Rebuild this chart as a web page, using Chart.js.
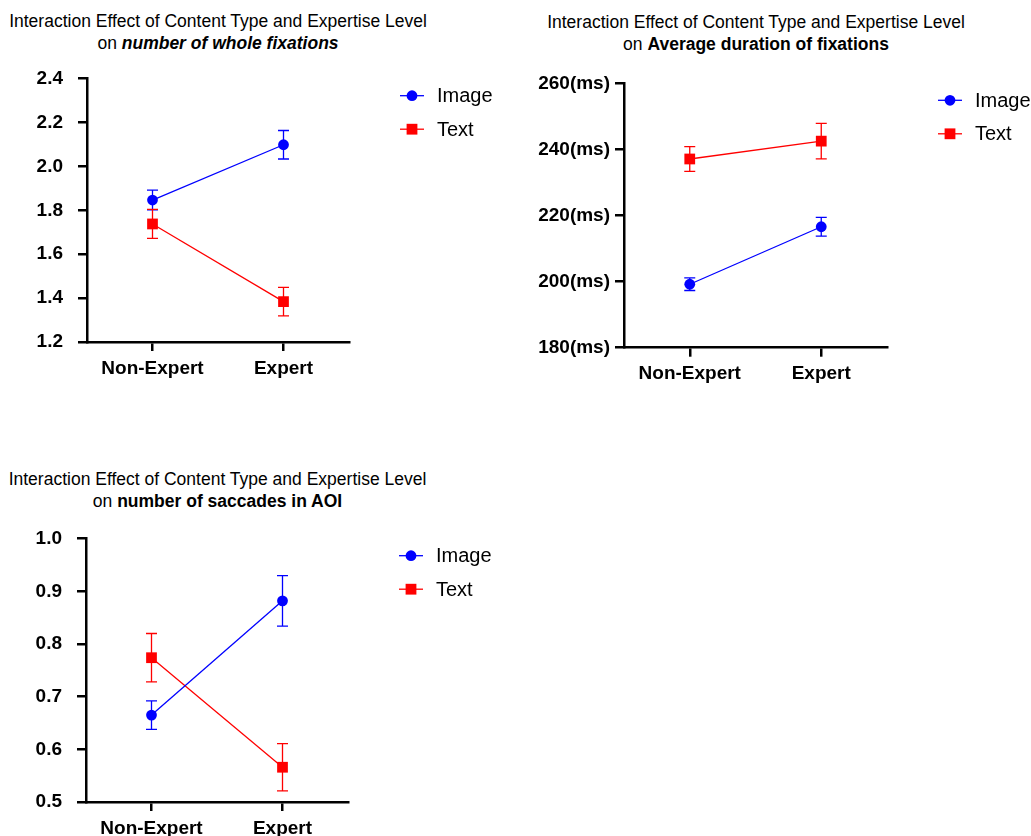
<!DOCTYPE html>
<html>
<head>
<meta charset="utf-8">
<script src="https://cdn.jsdelivr.net/npm/chart.js@4"></script>
<style>
  body { margin: 0; background: #fff; }
  #page { position: relative; width: 1031px; height: 836px; overflow: hidden; font-family: "Liberation Sans", Arial, sans-serif; }
  .title { position: absolute; width: 520px; text-align: center; font-size: 17.5px; line-height: 22px; color: #000; white-space: nowrap; }
  canvas { position: absolute; }
</style>
</head>
<body>
<div id="page">
  <div class="title" style="left:-42px;top:10px">Interaction Effect of Content Type and Expertise Level<br>on <b><i>number of whole fixations</i></b></div>
  <div class="title" style="left:496px;top:10.7px">Interaction Effect of Content Type and Expertise Level<br>on <b>Average duration of fixations</b></div>
  <div class="title" style="left:-42.5px;top:468.3px">Interaction Effect of Content Type and Expertise Level<br>on <b>number of saccades in AOI</b></div>
  <canvas id="c1" width="515" height="336" style="left:0;top:48px"></canvas>
  <canvas id="c2" width="511" height="330" style="left:520px;top:60px"></canvas>
  <canvas id="c3" width="515" height="328" style="left:0;top:508px"></canvas>
</div>
<script>
const categories = ["Non-Expert", "Expert"];
const seriesNames = ["Image", "Text"];

// number of whole fixations (mean, error)
const fixImage = [1.847, 2.099];
const fixImageErr = [0.045, 0.065];
const fixText = [1.738, 1.384];
const fixTextErr = [0.066, 0.065];
const fixTicks = [1.2, 1.4, 1.6, 1.8, 2.0, 2.2, 2.4];

// average duration of fixations (ms)
const durImage = [199.2, 216.6];
const durImageErr = [1.9, 2.85];
const durText = [237.1, 242.5];
const durTextErr = [3.75, 5.35];
const durTicks = [180, 200, 220, 240, 260];

// number of saccades in AOI
const sacImage = [0.665, 0.882];
const sacImageErr = [0.027, 0.048];
const sacText = [0.774, 0.566];
const sacTextErr = [0.046, 0.045];
const sacTicks = [0.5, 0.6, 0.7, 0.8, 0.9, 1.0];

const FONT = '"Liberation Sans", Arial, sans-serif';

// error bars drawn from the y scale
const errorBars = {
  id: "errorBars",
  beforeDatasetsDraw(chart) {
    const ctx = chart.ctx;
    const yScale = chart.scales.y;
    chart.data.datasets.forEach((ds, i) => {
      const meta = chart.getDatasetMeta(i);
      ctx.save();
      ctx.strokeStyle = ds.borderColor;
      ctx.lineWidth = 1.3;
      meta.data.forEach((pt, j) => {
        const top = yScale.getPixelForValue(ds.data[j] + ds.errors[j]);
        const bot = yScale.getPixelForValue(ds.data[j] - ds.errors[j]);
        ctx.beginPath();
        ctx.moveTo(pt.x, top); ctx.lineTo(pt.x, bot);
        ctx.moveTo(pt.x - 5.5, top); ctx.lineTo(pt.x + 5.5, top);
        ctx.moveTo(pt.x - 5.5, bot); ctx.lineTo(pt.x + 5.5, bot);
        ctx.stroke();
      });
      ctx.restore();
    });
  }
};

// legend at the right of the plot, line through marker
const sideLegend = {
  id: "sideLegend",
  afterDraw(chart) {
    const ctx = chart.ctx;
    const a = chart.chartArea;
    const x = a.right + 63;
    chart.data.datasets.forEach((ds, i) => {
      const y = a.top + 17 + i * 33.5;
      ctx.save();
      ctx.strokeStyle = ds.borderColor;
      ctx.lineWidth = 1.3;
      ctx.beginPath();
      ctx.moveTo(x - 12, y); ctx.lineTo(x + 12, y);
      ctx.stroke();
      ctx.fillStyle = ds.backgroundColor;
      ctx.beginPath();
      if (ds.pointStyle === "rect") {
        ctx.rect(x - 5.4, y - 5.4, 10.8, 10.8);
      } else {
        ctx.arc(x, y, 5.4, 0, Math.PI * 2);
      }
      ctx.fill();
      ctx.fillStyle = "#000";
      ctx.font = "20px " + FONT;
      ctx.textBaseline = "middle";
      ctx.fillText(ds.label, x + 25, y + 1);
      ctx.restore();
    });
  }
};

function axisStyle() {
  return {
    grid: { drawOnChartArea: false, drawTicks: true, tickLength: 9, tickWidth: 2.5, tickColor: "#000", lineWidth: 2.5, color: "#000" },
    border: { display: true, color: "#000", width: 2.5 }
  };
}

function makeChart(id, image, imageErr, text, textErr, ticks, fmt, yWidth, yPad, pad, xHeight) {
  const yAxis = axisStyle();
  const xAxis = axisStyle();
  return new Chart(id, {
    type: "line",
    data: {
      labels: categories,
      datasets: [
        { label: seriesNames[0], data: image, errors: imageErr, borderColor: "#0000ff", backgroundColor: "#0000ff",
          borderWidth: 1.3, pointStyle: "circle", pointRadius: 5.4, pointBorderWidth: 0, clip: false },
        { label: seriesNames[1], data: text, errors: textErr, borderColor: "#ff0000", backgroundColor: "#ff0000",
          borderWidth: 1.3, pointStyle: "rect", pointRadius: 7.6, pointBorderWidth: 0, clip: false }
      ]
    },
    options: {
      responsive: false,
      animation: false,
      layout: { padding: pad },
      plugins: { legend: { display: false }, tooltip: { enabled: false } },
      scales: {
        x: Object.assign(xAxis, {
          type: "category",
          offset: true,
          ticks: { color: "#000", font: { family: FONT, size: 19, weight: "bold" }, padding: 6, maxRotation: 0, autoSkip: false },
          afterFit: s => { s.height = xHeight; }
        }),
        y: Object.assign(yAxis, {
          min: ticks[0],
          max: ticks[ticks.length - 1],
          afterBuildTicks: s => { s.ticks = ticks.map(v => ({ value: v })); },
          ticks: { color: "#000", font: { family: FONT, size: 19, weight: "bold" }, padding: yPad, callback: fmt },
          afterFit: s => { s.width = yWidth; }
        })
      }
    },
    plugins: [errorBars, sideLegend]
  });
}

makeChart("c1", fixImage, fixImageErr, fixText, fixTextErr, fixTicks, v => v.toFixed(1), 87, 15,
  { left: 0, top: 30.7, right: 166, bottom: 2 }, 40);
makeChart("c2", durImage, durImageErr, durText, durTextErr, durTicks, v => v + "(ms)", 104, 5,
  { left: 0, top: 23.3, right: 144, bottom: 2.3 }, 40);
makeChart("c3", sacImage, sacImageErr, sacText, sacTextErr, sacTicks, v => v.toFixed(1), 86, 15,
  { left: 0, top: 30.7, right: 167, bottom: 0 }, 34);
</script>
</body>
</html>
